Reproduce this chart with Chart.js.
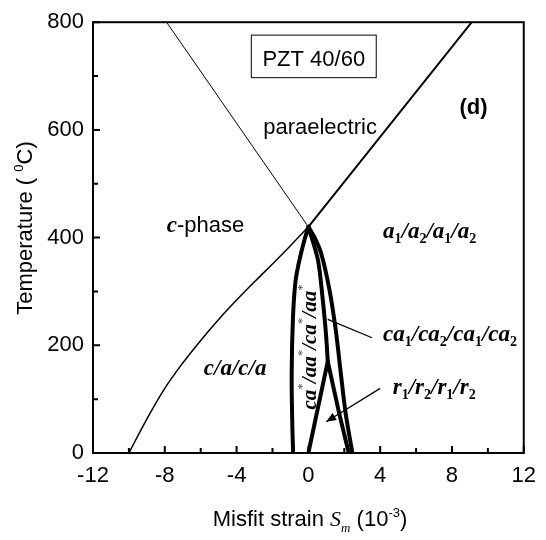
<!DOCTYPE html>
<html>
<head>
<meta charset="utf-8">
<script src="https://cdn.jsdelivr.net/npm/chart.js@4"></script>
<style>
  html, body { margin: 0; padding: 0; background: #fff; }
  #wrap { width: 546px; height: 540px; }
</style>
</head>
<body>
<div id="wrap"><canvas id="c" width="546" height="540"></canvas></div>
<script>
(function () {

  /* ── ข้อมูล (strain ×10^-3, อุณหภูมิ °C) ── */
  const xTicks = [-12, -8, -4, 0, 4, 8, 12];
  const yTicks = [0, 200, 400, 600, 800];

  // paraelectric / c-phase (เส้นบาง)
  const paraCX = [0, -7.9];
  const paraCT = [420, 800];
  // paraelectric / a1/a2
  const paraAX = [0, 9.1];
  const paraAT = [420, 800];
  // c-phase / c/a/c/a
  const cacaX = [-10, -9, -8, -7, -6, -5, -4, -3, -2, -1, 0];
  const cacaT = [0, 63, 120, 167, 209, 248, 284, 318, 351, 385, 420];
  // เลนส์ ca*-aa* ด้านซ้าย
  const lensLeftX = [0, -0.25, -0.5, -0.72, -0.86, -0.93, -0.9, -0.85];
  const lensLeftT = [420, 392, 358, 318, 250, 150, 60, 0];
  // เส้นในขวา (ถึงจุดแยก r1/r2)
  const lensInnerX = [0, 0.53, 0.8, 0.99, 1.08];
  const lensInnerT = [420, 359, 285, 217, 170];
  // ขอบเขต r1/r2
  const rBoundX = [0, 1.08, 1.72, 2.25];
  const rBoundT = [0, 170, 73, 0];
  // เส้นนอกขวา
  const lensOuterX = [0, 0.35, 0.71, 1.17, 1.53, 1.8, 2.08, 2.45];
  const lensOuterT = [420, 400, 371, 304, 227, 150, 73, 0];

  const SANS = '"Liberation Sans", Arial, sans-serif';
  const SERIF = '"Liberation Serif", "Times New Roman", serif';

  function pts(xs, ys) { return xs.map(function (x, i) { return { x: x, y: ys[i] }; }); }
  function line(xs, ys, w, tension) {
    return { data: pts(xs, ys), showLine: true, borderColor: '#000', borderWidth: w,
      pointRadius: 0, tension: tension || 0, fill: false, borderCapStyle: 'round', borderJoinStyle: 'round' };
  }

  /* ── ข้อความหลายฟอนต์ (ตัวห้อย/ตัวยก) ── */
  function richWidth(ctx, parts) {
    let w = 0;
    parts.forEach(function (p) { ctx.font = p.f; w += ctx.measureText(p.t).width; });
    return w;
  }
  function drawRich(ctx, x, y, parts, align) {
    let cx = align === 'center' ? x - richWidth(ctx, parts) / 2 : x;
    parts.forEach(function (p) {
      ctx.font = p.f;
      ctx.fillStyle = p.c || '#000';
      ctx.fillText(p.t, cx, y + (p.dy || 0));
      cx += ctx.measureText(p.t).width;
    });
  }

  const BI = 'italic bold 23px ' + SERIF;
  const SUB = 'bold 14px ' + SERIF;
  function subLabel(base, subs) {
    const parts = [];
    subs.forEach(function (s, i) {
      parts.push({ t: (i ? '/' : '') + base, f: BI });
      parts.push({ t: s, f: SUB, dy: 5 });
    });
    return parts;
  }

  const decor = {
    id: 'decor',
    afterDraw: function (chart) {
      const ctx = chart.ctx, a = chart.chartArea;
      const sx = chart.scales.x, sy = chart.scales.y;
      const X = function (v) { return sx.getPixelForValue(v); };
      const Y = function (v) { return sy.getPixelForValue(v); };
      ctx.save();
      ctx.strokeStyle = '#000';

      // กรอบ + ขีดหันเข้าใน
      ctx.lineWidth = 2;
      ctx.strokeRect(a.left, a.top, a.right - a.left, a.bottom - a.top);
      ctx.beginPath();
      for (let v = -12; v <= 12; v += 2) {
        const len = v % 4 === 0 ? 7 : 5;
        ctx.moveTo(X(v), a.bottom); ctx.lineTo(X(v), a.bottom - len);
      }
      for (let v = 0; v <= 800; v += 100) {
        const len = v % 200 === 0 ? 7 : 5;
        ctx.moveTo(a.left, Y(v)); ctx.lineTo(a.left + len, Y(v));
      }
      ctx.stroke();

      // ลูกศรชี้
      ctx.lineWidth = 1.3;
      ctx.beginPath();
      ctx.moveTo(X(3.55), Y(214)); ctx.lineTo(X(1.08), Y(248));
      ctx.moveTo(X(4.0), Y(120)); ctx.lineTo(X(0.99), Y(58));
      ctx.stroke();
      const tx = X(0.99), ty = Y(58);
      const ang = Math.atan2(ty - Y(120), tx - X(4.0));
      ctx.beginPath();
      ctx.moveTo(tx, ty);
      ctx.lineTo(tx - 10 * Math.cos(ang) + 4 * Math.sin(ang), ty - 10 * Math.sin(ang) - 4 * Math.cos(ang));
      ctx.lineTo(tx - 10 * Math.cos(ang) - 4 * Math.sin(ang), ty - 10 * Math.sin(ang) + 4 * Math.cos(ang));
      ctx.closePath();
      ctx.fillStyle = '#000';
      ctx.fill();

      // กล่อง PZT 40/60
      ctx.lineWidth = 1;
      ctx.strokeRect(X(-3.18), Y(776), X(3.78) - X(-3.18), Y(697) - Y(776));
      ctx.textBaseline = 'alphabetic';
      ctx.textAlign = 'left';
      drawRich(ctx, X(0.3), Y(718), [{ t: 'PZT 40/60', f: '22px ' + SANS }], 'center');

      // ป้ายเฟส
      drawRich(ctx, X(0.65), Y(592), [{ t: 'paraelectric', f: '22px ' + SANS }], 'center');
      drawRich(ctx, X(9.2), Y(629), [{ t: '(d)', f: 'bold 22px ' + SANS }], 'center');
      drawRich(ctx, X(-7.89), Y(411), [{ t: 'c', f: BI }, { t: '-phase', f: '22px ' + SANS }], 'left');
      drawRich(ctx, X(-4.08), Y(144), [{ t: 'c/a/c/a', f: BI }], 'center');
      drawRich(ctx, X(4.16), Y(400), subLabel('a', ['1', '2', '1', '2']), 'left');
      drawRich(ctx, X(4.16), Y(208), subLabel('ca', ['1', '2', '1', '2']), 'left');
      drawRich(ctx, X(4.7), Y(109), subLabel('r', ['1', '2', '1', '2']), 'left');

      // ป้ายแนวตั้งในเลนส์
      const BI2 = 'italic bold 21px ' + SERIF;
      const STAR = '13px ' + SERIF;
      ctx.save();
      ctx.translate(X(0.42), Y(197));
      ctx.rotate(-Math.PI / 2);
      drawRich(ctx, 0, 0, [
        { t: 'ca', f: BI2 }, { t: '*', f: STAR, dy: -10, c: '#444' },
        { t: '/aa', f: BI2 }, { t: '*', f: STAR, dy: -10, c: '#444' },
        { t: '/ca', f: BI2 }, { t: '*', f: STAR, dy: -10, c: '#444' },
        { t: '/aa', f: BI2 }, { t: '*', f: STAR, dy: -10, c: '#444' }
      ], 'center');
      ctx.restore();

      // ชื่อแกน
      drawRich(ctx, 310, 526, [
        { t: 'Misfit strain ', f: '22px ' + SANS },
        { t: 'S', f: 'italic 22px ' + SERIF },
        { t: 'm', f: 'italic 13px ' + SERIF, dy: 6 },
        { t: ' (10', f: '22px ' + SANS },
        { t: '-3', f: '13px ' + SANS, dy: -9 },
        { t: ')', f: '22px ' + SANS }
      ], 'center');
      ctx.save();
      ctx.translate(32, 228);
      ctx.rotate(-Math.PI / 2);
      drawRich(ctx, 0, 0, [
        { t: 'Temperature ( ', f: '22px ' + SANS },
        { t: '0', f: '13px ' + SANS, dy: -9 },
        { t: 'C)', f: '22px ' + SANS }
      ], 'center');
      ctx.restore();

      ctx.restore();
    }
  };

  new Chart(document.getElementById('c').getContext('2d'), {
    type: 'scatter',
    data: {
      datasets: [
        line(paraCX, paraCT, 1),
        line(paraAX, paraAT, 2),
        line(cacaX, cacaT, 1.5, 0.4),
        line(lensLeftX, lensLeftT, 4, 0.4),
        line(lensInnerX, lensInnerT, 4, 0.3),
        line(rBoundX, rBoundT, 4, 0),
        line(lensOuterX, lensOuterT, 4, 0.3)
      ]
    },
    options: {
      responsive: false,
      animation: false,
      events: [],
      layout: { padding: { top: 19, right: 15, bottom: 0, left: 0 } },
      plugins: { legend: { display: false }, tooltip: { enabled: false }, title: { display: false } },
      scales: {
        x: {
          type: 'linear', min: -12, max: 12,
          afterBuildTicks: function (s) { s.ticks = xTicks.map(function (v) { return { value: v }; }); },
          afterFit: function (s) { s.height = 87; },
          grid: { display: false, drawTicks: false },
          border: { display: false },
          ticks: { color: '#000', padding: 10, maxRotation: 0, font: { family: SANS, size: 22 } }
        },
        y: {
          type: 'linear', min: 0, max: 800,
          afterBuildTicks: function (s) { s.ticks = yTicks.map(function (v) { return { value: v }; }); },
          afterFit: function (s) { s.width = 93; },
          grid: { display: false, drawTicks: false },
          border: { display: false },
          ticks: { color: '#000', padding: 9, font: { family: SANS, size: 22 } }
        }
      }
    },
    plugins: [decor]
  });

})();
</script>
</body>
</html>
